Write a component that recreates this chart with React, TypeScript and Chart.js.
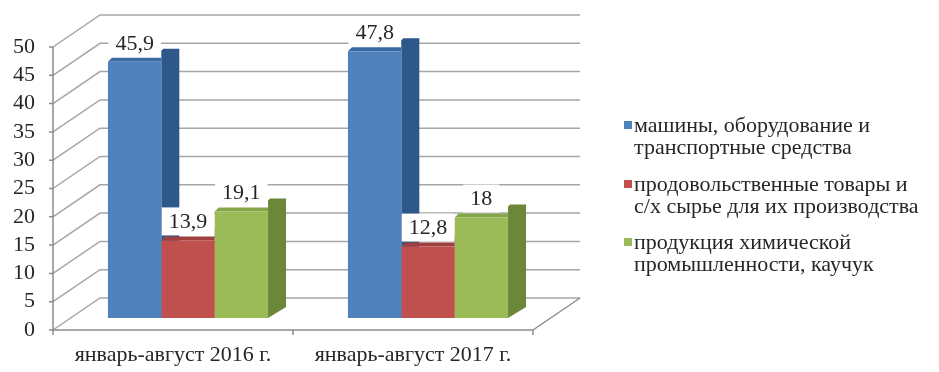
import React, { useEffect, useRef } from "react";
import { Chart, registerables } from "chart.js";

Chart.register(...registerables);

// ---- data ----
const categories = ["январь-август 2016 г.", "январь-август 2017 г."];
const seriesNames = [
  ["машины, оборудование и", "транспортные средства"],
  ["продовольственные товары и", "с/х сырье для их производства"],
  ["продукция химической", "промышленности, каучук"],
];
const machinery = [45.9, 47.8];
const food = [13.9, 12.8];
const chemicals = [19.1, 18];
const yTicks = [0, 5, 10, 15, 20, 25, 30, 35, 40, 45, 50];

// ---- styles ----
const frontColors = ["#4F81BD", "#C0504D", "#9BBB59"];
const sideColors = ["#2E578A", "#8A3533", "#6C873A"];
const topColors = ["#3A6AA3", "#9E403D", "#86A64A"];
const FONT = '"Liberation Serif", "Times New Roman", serif';
const TEXT = "#262626";
const GRID = "#A6A6A6";
const AXIS = "#8C8C8C";
const AXIS_SIZE = 22;
const LEGEND_SIZE = 22;

// 3D geometry (pixels)
const WALL_DX = 47;
const WALL_DY = -32;
const BAR_DX = 15;
const BAR_DY = -12;
const BAR_SCALE = 0.986;
const SIDE_DX = 18;
const SIDE_DY = -13;
const TOP_H = 4;

const fmt = (v: number) => String(v).replace(".", ",");

const threeD = {
  id: "threeD",
  beforeDatasetsDraw(chart: any) {
    const { ctx, chartArea, scales } = chart;
    const ys = scales.y;
    const { left, right } = chartArea;
    const y0 = ys.getPixelForValue(0);
    ctx.save();
    // walls
    ctx.lineWidth = 1.5;
    ctx.strokeStyle = GRID;
    for (const v of yTicks) {
      const yf = ys.getPixelForValue(v);
      ctx.beginPath();
      ctx.moveTo(left, yf);
      ctx.lineTo(left + WALL_DX, yf + WALL_DY);
      ctx.lineTo(right + WALL_DX, yf + WALL_DY);
      ctx.stroke();
    }
    ctx.strokeStyle = AXIS;
    ctx.beginPath();
    ctx.moveTo(right, y0);
    ctx.lineTo(right + WALL_DX, y0 + WALL_DY);
    ctx.moveTo(left, y0);
    ctx.lineTo(right, y0);
    ctx.moveTo(left, ys.getPixelForValue(50));
    ctx.lineTo(left, y0 + 5);
    for (const v of yTicks) {
      const yf = ys.getPixelForValue(v);
      ctx.moveTo(left - 4, yf);
      ctx.lineTo(left, yf);
    }
    const n = categories.length;
    for (let i = 0; i <= n; i++) {
      const x = left + ((right - left) * i) / n;
      ctx.moveTo(x, y0);
      ctx.lineTo(x, y0 + 5);
    }
    ctx.stroke();

    // side + top faces
    const P = (x: number, y: number) => [x + BAR_DX, y0 + BAR_DY + (y - y0) * BAR_SCALE];
    for (let j = 0; j < n; j++) {
      chart.data.datasets.forEach((_ds: any, i: number) => {
        const el = chart.getDatasetMeta(i).data[j];
        if (!el) return;
        const { x, y, base, width } = el.getProps(["x", "y", "base", "width"], true);
        const [l, top] = P(x - width / 2, y);
        const [r, bottom] = P(x + width / 2, base);
        ctx.fillStyle = sideColors[i];
        ctx.beginPath();
        ctx.moveTo(r, top + SIDE_DY + 2);
        ctx.lineTo(r + 2, top + SIDE_DY);
        ctx.lineTo(r + SIDE_DX, top + SIDE_DY);
        ctx.lineTo(r + SIDE_DX, bottom + SIDE_DY + 2);
        ctx.lineTo(r, bottom);
        ctx.closePath();
        ctx.fill();
        ctx.fillStyle = topColors[i];
        ctx.beginPath();
        ctx.moveTo(l, top);
        ctx.lineTo(l + TOP_H, top - TOP_H);
        ctx.lineTo(r, top - TOP_H);
        ctx.lineTo(r, top);
        ctx.closePath();
        ctx.fill();
      });
    }
    ctx.restore();

    // shift the front faces into the bar plane
    ctx.save();
    ctx.translate(BAR_DX, BAR_DY + y0 * (1 - BAR_SCALE));
    ctx.scale(1, BAR_SCALE);
  },
  afterDatasetsDraw(chart: any) {
    const { ctx, scales } = chart;
    ctx.restore();
    const y0 = scales.y.getPixelForValue(0);
    const P = (x: number, y: number) => [x + BAR_DX, y0 + BAR_DY + (y - y0) * BAR_SCALE];
    ctx.save();
    ctx.font = `${AXIS_SIZE}px ${FONT}`;
    ctx.textAlign = "center";
    ctx.textBaseline = "middle";
    chart.data.datasets.forEach((ds: any, i: number) => {
      chart.getDatasetMeta(i).data.forEach((el: any, j: number) => {
        const { x, y } = el.getProps(["x", "y"], true);
        const [cx, top] = P(x, y);
        const cy = top - 19;
        const txt = fmt(ds.data[j]);
        const tw = ctx.measureText(txt).width;
        ctx.fillStyle = "#FFFFFF";
        ctx.fillRect(cx - tw / 2 - 7, cy - 14, tw + 14, 28);
        ctx.fillStyle = TEXT;
        ctx.fillText(txt, cx, cy + 1);
      });
    });
    ctx.restore();
  },
  afterDraw(chart: any) {
    const { ctx } = chart;
    ctx.save();
    ctx.font = `${LEGEND_SIZE}px ${FONT}`;
    ctx.textBaseline = "middle";
    ctx.textAlign = "left";
    const startY = [126, 185, 243];
    seriesNames.forEach((lines, i) => {
      ctx.fillStyle = frontColors[i];
      ctx.fillRect(624, startY[i] - 5, 8, 8);
      ctx.fillStyle = TEXT;
      lines.forEach((t, k) => ctx.fillText(t, 634, startY[i] + k * 22));
    });
    ctx.restore();
  },
};

export default function App() {
  const ref = useRef<HTMLCanvasElement | null>(null);
  useEffect(() => {
    document.body.style.margin = "0";
    if (!ref.current) return;
    const chart = new Chart(ref.current, {
      type: "bar",
      data: {
        labels: categories,
        datasets: [machinery, food, chemicals].map((d, i) => ({
          label: seriesNames[i].join(" "),
          data: d,
          backgroundColor: frontColors[i],
          borderWidth: 0,
          barPercentage: 1,
          categoryPercentage: 0.667,
          clip: false as any,
        })),
      },
      options: {
        responsive: false,
        animation: false,
        layout: { padding: { top: 47, left: 0, right: 406, bottom: 0 } },
        scales: {
          x: {
            grid: { display: false, drawTicks: false },
            border: { display: false },
            ticks: { font: { family: FONT, size: AXIS_SIZE }, color: TEXT, padding: 12, autoSkip: false, maxRotation: 0 },
            afterFit: (s: any) => {
              s.height = 42;
            },
          },
          y: {
            min: 0,
            max: 50,
            grid: { display: false, drawTicks: false },
            border: { display: false },
            ticks: {
              stepSize: 5,
              autoSkip: false,
              font: { family: FONT, size: AXIS_SIZE, lineHeight: 1 },
              color: TEXT,
              padding: 18,
            },
            afterFit: (s: any) => {
              s.width = 53;
            },
          },
        },
        plugins: { legend: { display: false }, tooltip: { enabled: false } },
      },
      plugins: [threeD],
    });
    return () => chart.destroy();
  }, []);
  return <canvas ref={ref} width={939} height={372} style={{ display: "block", width: 939, height: 372 }} />;
}
